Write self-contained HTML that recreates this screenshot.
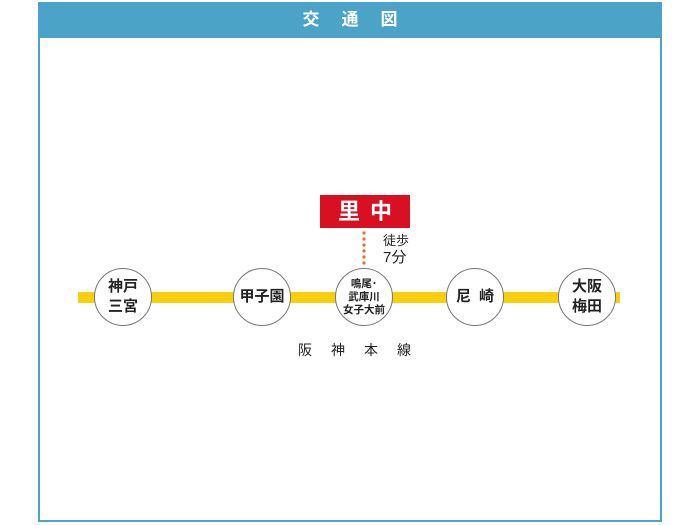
<!DOCTYPE html>
<html><head><meta charset="utf-8"><style>
body{margin:0;width:700px;height:525px;background:#fff;position:relative;overflow:hidden;font-family:"Liberation Sans","Noto Sans CJK JP",sans-serif}
.frame{position:absolute;left:38px;top:2px;width:620px;height:518px;border:2px solid #4ba3c7;border-top:none}
.hd{position:absolute;left:38px;top:2px;width:624px;height:36px;background:#4ba3c7;color:#fff;font-weight:bold;font-size:17px;text-align:center;line-height:36px;letter-spacing:22px;text-indent:22px}
.line{position:absolute;left:78px;top:292px;width:542px;height:11px;background:#f8cf0b}
.st{position:absolute;width:56px;height:56px;border:1.5px solid #777;border-radius:50%;background:#fff;display:flex;align-items:center;justify-content:center;text-align:center;color:#222;font-size:15px;line-height:20px;font-weight:bold;top:268px}
.red{position:absolute;left:320px;top:195px;width:90px;height:33px;background:#d90f22;color:#fff;font-weight:bold;font-size:22px;text-align:center;line-height:33px;letter-spacing:10px;text-indent:10px}
</style></head><body>
<div class="frame"></div>
<div class="hd">交通図</div>
<div class="line"></div>
<div class="st" style="left:94px">神戸<br>三宮</div>
<div class="st" style="left:233px">甲子園</div>
<div class="st" style="left:335px;font-size:10.5px;line-height:13px">鳴尾･<br>武庫川<br>女子大前</div>
<div class="st" style="left:446px;letter-spacing:8px;text-indent:8px">尼崎</div>
<div class="st" style="left:558px">大阪<br>梅田</div>
<div class="red">里中</div>
<svg style="position:absolute;left:360px;top:230px" width="10" height="36"><g fill="#ea6a35"><circle cx="4" cy="3" r="1.6"/><circle cx="4" cy="9" r="1.6"/><circle cx="4" cy="15" r="1.6"/><circle cx="4" cy="21" r="1.6"/><circle cx="4" cy="27" r="1.6"/><circle cx="4" cy="33" r="1.6"/></g></svg>
<div style="position:absolute;left:383px;top:232px;font-size:13px;color:#222;line-height:17px">徒歩<br><span style="font-size:15px">7分</span></div>
<div style="position:absolute;left:298px;top:340px;font-size:14px;color:#222;letter-spacing:19px">阪神本線</div>
</body></html>
